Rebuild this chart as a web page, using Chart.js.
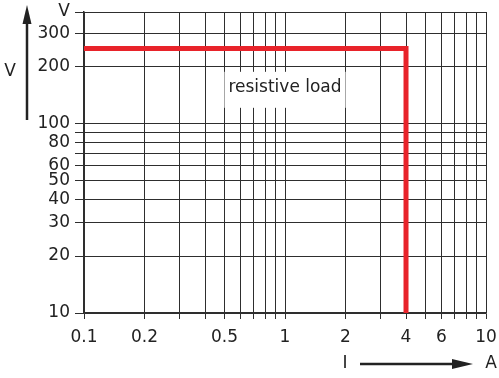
<!DOCTYPE html>
<html>
<head>
<meta charset="utf-8">
<script src="https://cdn.jsdelivr.net/npm/chart.js@4"></script>
<style>
  html, body { margin: 0; padding: 0; background: #fff; }
  #wrap { width: 499px; height: 378px; }
</style>
</head>
<body>
<div id="wrap"><canvas id="chart"></canvas></div>
<script>
/* ── Data ─────────────────────────────────────────────────────────────── */
const currentA = [0.1, 4, 4];          // I (A)
const voltageV = [250, 250, 10];       // V
const xTickValues = [0.1, 0.2, 0.3, 0.4, 0.5, 0.6, 0.7, 0.8, 0.9, 1, 2, 3, 4, 5, 6, 7, 8, 9, 10];
const xTickLabels = ["0.1", "0.2", "0.5", "1", "2", "4", "6", "10"];
const yTickValues = [10, 20, 30, 40, 50, 60, 70, 80, 90, 100, 200, 300, 390];
const yTickLabels = ["10", "20", "30", "40", "50", "60", "80", "100", "200", "300"];
const curveLabel = "resistive load";

const FONT = '"DejaVu Sans", sans-serif';
const INK = "#2e2e2e";
const RED = "#e8232a";

/* ── Annotations: text box + axis arrows ──────────────────────────────── */
const decorations = {
  id: "decorations",
  afterDatasetsDraw(chart) {
    const { ctx, scales: { x, y } } = chart;
    // label box
    ctx.save();
    ctx.font = "17px " + FONT;
    const cx = x.getPixelForValue(1);
    const cy = y.getPixelForValue(155);
    const w = ctx.measureText(curveLabel).width;
    ctx.fillStyle = "#fff";
    ctx.fillRect(cx - w / 2 - 4, cy - 16, w + 8, 36);
    ctx.fillStyle = "#222";
    ctx.textAlign = "center";
    ctx.textBaseline = "middle";
    ctx.fillText(curveLabel, cx, cy);
    ctx.restore();
  },
  afterDraw(chart) {
    const { ctx } = chart;
    ctx.save();
    ctx.fillStyle = "#222";
    ctx.strokeStyle = "#222";
    ctx.font = "17px " + FONT;
    ctx.textBaseline = "middle";

    // vertical arrow (V)
    const ax = 27;
    ctx.lineWidth = 2.5;
    ctx.beginPath();
    ctx.moveTo(ax, 120);
    ctx.lineTo(ax, 20);
    ctx.stroke();
    ctx.beginPath();
    ctx.moveTo(ax, 5);
    ctx.lineTo(ax - 4.5, 24);
    ctx.lineTo(ax + 4.5, 24);
    ctx.closePath();
    ctx.fill();
    ctx.textAlign = "center";
    ctx.fillText("V", 10, 72);

    // horizontal arrow (I → A)
    const ay = 364;
    ctx.beginPath();
    ctx.moveTo(360, ay);
    ctx.lineTo(458, ay);
    ctx.stroke();
    ctx.beginPath();
    ctx.moveTo(473, ay);
    ctx.lineTo(452, ay - 5);
    ctx.lineTo(452, ay + 5);
    ctx.closePath();
    ctx.fill();
    ctx.fillText("I", 345, ay);
    ctx.fillText("A", 491, ay);
    ctx.restore();
  }
};

const noPad = (s) => {
  s.paddingTop = 0; s.paddingBottom = 0; s.paddingLeft = 0; s.paddingRight = 0;
};

/* ── Chart ────────────────────────────────────────────────────────────── */
new Chart(document.getElementById("chart"), {
  type: "line",
  data: {
    datasets: [{
      data: currentA.map((v, i) => ({ x: v, y: voltageV[i] })),
      borderColor: RED,
      borderWidth: 5,
      pointRadius: 0,
      tension: 0,
      fill: false,
      borderJoinStyle: "miter"
    }]
  },
  options: {
    responsive: true,
    maintainAspectRatio: false,
    animation: false,
    layout: { padding: { top: 12, right: 13, left: 0, bottom: 0 } },
    plugins: { legend: { display: false }, tooltip: { enabled: false } },
    scales: {
      x: {
        type: "logarithmic",
        min: 0.1,
        max: 10,
        afterBuildTicks: (s) => { s.ticks = xTickValues.map((v) => ({ value: v })); },
        afterFit: (s) => { s.height = 65; noPad(s); },
        grid: { color: INK, lineWidth: 1, tickLength: 6 },
        border: { color: INK, width: 1.5 },
        ticks: {
          autoSkip: false,
          maxRotation: 0,
          padding: 8,
          color: "#222",
          font: { family: FONT, size: 17 },
          callback: (v) => {
            const s = String(+v.toPrecision(3));
            return xTickLabels.includes(s) ? s : "";
          }
        }
      },
      y: {
        type: "logarithmic",
        min: 10,
        max: 390,
        afterBuildTicks: (s) => { s.ticks = yTickValues.map((v) => ({ value: v })); },
        afterFit: (s) => { s.width = 84; noPad(s); },
        grid: { color: INK, lineWidth: 1, tickLength: 9 },
        border: { color: INK, width: 1.5 },
        ticks: {
          autoSkip: false,
          padding: 5,
          color: "#222",
          font: { family: FONT, size: 17 },
          callback: (v) => {
            if (v === yTickValues[yTickValues.length - 1]) return "V";
            const s = String(v);
            return yTickLabels.includes(s) ? s : "";
          }
        }
      }
    }
  },
  plugins: [decorations]
});
</script>
</body>
</html>
